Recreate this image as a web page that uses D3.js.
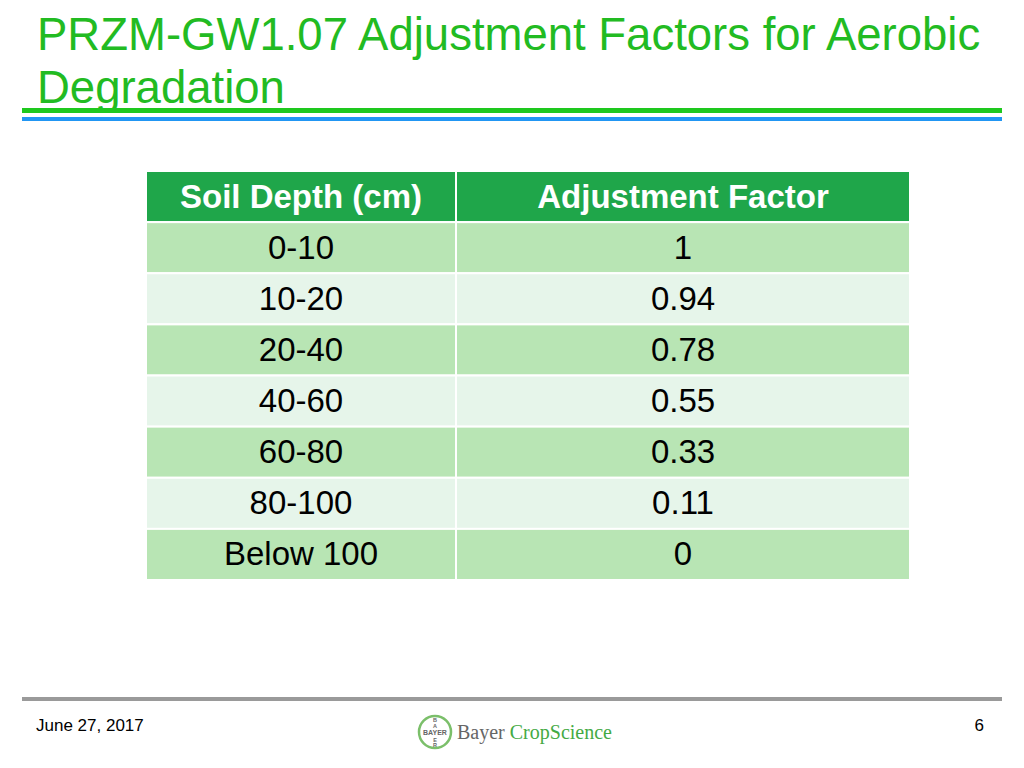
<!DOCTYPE html>
<html><head><meta charset="utf-8">
<script src="https://cdn.jsdelivr.net/npm/d3@7"></script>
<style>body{margin:0;background:#fff}svg{display:block}</style>
</head><body><div id="chart"></div>
<script>
const headers = ["Soil Depth (cm)", "Adjustment Factor"];
const depths = ["0-10", "10-20", "20-40", "40-60", "60-80", "80-100", "Below 100"];
const factors = ["1", "0.94", "0.78", "0.55", "0.33", "0.11", "0"];

const svg = d3.select("#chart").append("svg").attr("width", 1024).attr("height", 768);
const font = "Liberation Sans, Arial, sans-serif";

svg.append("text").attr("x", 37).attr("y", 50).attr("font-family", font).attr("font-size", 45.5)
  .attr("fill", "#22bb22").text("PRZM-GW1.07 Adjustment Factors for Aerobic");
svg.append("text").attr("x", 37).attr("y", 103).attr("font-family", font).attr("font-size", 45.5)
  .attr("fill", "#22bb22").text("Degradation");
svg.append("rect").attr("x", 22).attr("y", 108).attr("width", 980).attr("height", 5).attr("fill", "#1ec81e");
svg.append("rect").attr("x", 22).attr("y", 117).attr("width", 980).attr("height", 4).attr("fill", "#2196f3");

// table
const x = d3.scaleOrdinal().domain([0, 1]).range([146, 456]);
const colW = [310, 454];
const y = d3.scaleBand().domain(d3.range(depths.length + 1)).range([171, 580]);

const rows = [headers].concat(depths.map((d, i) => [d, factors[i]]));
rows.forEach((r, ri) => {
  r.forEach((t, ci) => {
    const fill = ri === 0 ? "#1fa64a" : (ri % 2 ? "#b8e5b4" : "#e6f5ea");
    svg.append("rect").attr("x", x(ci)).attr("y", y(ri)).attr("width", colW[ci])
      .attr("height", y.bandwidth()).attr("fill", fill).attr("stroke", "#fff").attr("stroke-width", 2);
    svg.append("text").attr("x", x(ci) + colW[ci] / 2).attr("y", y(ri) + y.bandwidth() / 2 + 11)
      .attr("text-anchor", "middle").attr("font-family", font).attr("font-size", 33)
      .attr("font-weight", ri === 0 ? "bold" : "normal")
      .attr("fill", ri === 0 ? "#fff" : "#000").text(t);
  });
});

// footer
svg.append("rect").attr("x", 22).attr("y", 697).attr("width", 980).attr("height", 4).attr("fill", "#9a9a9a");
svg.append("text").attr("x", 36).attr("y", 731).attr("font-family", font).attr("font-size", 17).text("June 27, 2017");
svg.append("text").attr("x", 984).attr("y", 731).attr("text-anchor", "end").attr("font-family", font).attr("font-size", 17).text("6");
const logo = svg.append("g").attr("transform", "translate(435,732)");
logo.append("circle").attr("r", 16).attr("fill", "none").attr("stroke", "#7bbf6a").attr("stroke-width", 2.5);
logo.append("text").attr("text-anchor", "middle").attr("y", 2.5).attr("font-family", font).attr("font-size", 7)
  .attr("font-weight", "bold").attr("fill", "#666").text("BAYER");
["B","A","E","R"].forEach((c, i) => logo.append("text").attr("text-anchor", "middle")
  .attr("y", [-10, -4, 10, 15][i]).attr("font-family", font).attr("font-size", 5.5).attr("font-weight", "bold")
  .attr("fill", "#666").text(c));
const brand = svg.append("text").attr("x", 457).attr("y", 739).attr("font-family", "Liberation Serif, serif").attr("font-size", 20);
brand.append("tspan").attr("fill", "#666").text("Bayer ");
brand.append("tspan").attr("fill", "#44aa44").text("CropScience");
</script></body></html>
